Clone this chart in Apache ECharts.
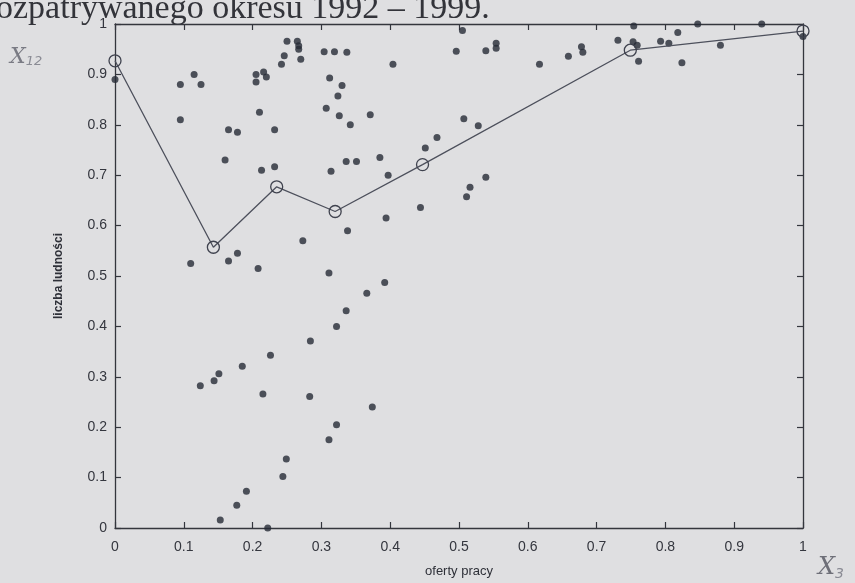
<!DOCTYPE html>
<html>
<head>
<meta charset="utf-8">
<script src="https://cdn.jsdelivr.net/npm/echarts@6/dist/echarts.min.js"></script>
<style>
html,body{margin:0;padding:0;background:#dfdfe1;}
#c{width:855px;height:583px;}
</style>
</head>
<body>
<div id="c"></div>
<script>
// tick labels
var xTickLabels = ['0','0.1','0.2','0.3','0.4','0.5','0.6','0.7','0.8','0.9','1'];
var yTickLabels = ['0','0.1','0.2','0.3','0.4','0.5','0.6','0.7','0.8','0.9','1'];

// scatter points (oferty pracy, liczba ludności)
var dotX = [0,0.095,0.095,0.115,0.125,0.11,0.16,0.165,0.178,0.165,0.178,0.205,0.205,0.216,0.22,0.21,0.213,0.208,0.232,0.232,
  0.242,0.246,0.25,0.265,0.267,0.267,0.27,0.273,0.312,0.304,0.319,0.337,0.33,0.324,0.307,0.326,0.342,0.314,0.336,0.351,
  0.338,0.311,0.371,0.385,0.397,0.394,0.392,0.366,0.404,0.451,0.444,0.124,0.144,0.151,0.185,0.226,0.215,0.284,0.322,0.336,
  0.283,0.322,0.311,0.374,0.249,0.244,0.191,0.177,0.153,0.222,0.505,0.496,0.539,0.554,0.554,0.617,0.659,0.678,0.68,0.731,
  0.754,0.753,0.759,0.761,0.793,0.805,0.818,0.824,0.847,0.88,0.94,1.0,0.468,0.507,0.528,0.539,0.516,0.511];
var dotY = [0.89,0.88,0.81,0.90,0.88,0.525,0.73,0.79,0.785,0.53,0.545,0.90,0.885,0.905,0.895,0.825,0.71,0.515,0.79,0.717,
  0.92,0.937,0.966,0.966,0.957,0.95,0.93,0.57,0.893,0.945,0.945,0.944,0.878,0.857,0.833,0.818,0.80,0.708,0.727,0.727,
  0.59,0.506,0.82,0.735,0.70,0.615,0.487,0.466,0.92,0.754,0.636,0.282,0.292,0.306,0.321,0.343,0.266,0.371,0.40,0.431,
  0.261,0.205,0.175,0.24,0.137,0.102,0.073,0.045,0.016,0.0,0.987,0.946,0.947,0.962,0.952,0.92,0.936,0.955,0.944,0.968,
  0.996,0.965,0.958,0.926,0.966,0.962,0.983,0.923,1.0,0.958,1.0,0.975,0.775,0.812,0.798,0.696,0.676,0.657];

// line with markers
var lineX = [0,0.143,0.235,0.32,0.447,0.749,1.0];
var lineY = [0.927,0.557,0.677,0.628,0.721,0.948,0.986];

var dots = dotX.map(function(x,i){return [x,dotY[i]];});
var linePts = lineX.map(function(x,i){return [x,lineY[i]];});

var axisCol = '#34363d';
var chart = echarts.init(document.getElementById('c'));
function lab(arr){return function(v){var i=Math.round(v*10);return arr[i]!==undefined?arr[i]:'';};}
var lineSt = {show:true,onZero:false,lineStyle:{color:axisCol,width:1.3}};
var tickSt = {show:true,inside:true,length:6,lineStyle:{color:axisCol,width:1.2}};
chart.setOption({
  backgroundColor:'#dfdfe1',
  animation:false,
  grid:{left:115,right:52,top:24,bottom:55},
  xAxis:[{
    type:'value',min:0,max:1,interval:0.1,position:'bottom',
    axisLine:lineSt,axisTick:tickSt,splitLine:{show:false},
    axisLabel:{formatter:lab(xTickLabels),color:'#34363e',fontFamily:'Liberation Sans',fontSize:14,margin:12},
    name:'oferty pracy',nameLocation:'middle',nameGap:37,
    nameTextStyle:{color:'#2e3038',fontFamily:'Liberation Sans',fontSize:13}
  },{
    type:'value',min:0,max:1,interval:0.1,position:'top',
    axisLine:lineSt,axisTick:tickSt,splitLine:{show:false},axisLabel:{show:false}
  }],
  yAxis:[{
    type:'value',min:0,max:1,interval:0.1,position:'left',
    axisLine:lineSt,axisTick:tickSt,splitLine:{show:false},
    axisLabel:{formatter:lab(yTickLabels),color:'#34363e',fontFamily:'Liberation Sans',fontSize:14,margin:8},
    name:'liczba ludności',nameLocation:'middle',nameGap:50,
    nameTextStyle:{color:'#2e3038',fontFamily:'Liberation Sans',fontSize:12,fontWeight:'bold'}
  },{
    type:'value',min:0,max:1,interval:0.1,position:'right',
    axisLine:lineSt,axisTick:tickSt,splitLine:{show:false},axisLabel:{show:false}
  }],
  series:[{
    type:'scatter',xAxisIndex:0,yAxisIndex:0,data:dots,symbol:'circle',symbolSize:7,clip:false,
    itemStyle:{color:'#262a36'},z:3
  },{
    type:'line',xAxisIndex:0,yAxisIndex:0,data:linePts,symbol:'circle',symbolSize:12,
    lineStyle:{color:'#4d505c',width:1.3},
    itemStyle:{color:'rgba(0,0,0,0)',borderColor:'#3f424e',borderWidth:1.3},z:4
  }],
  graphic:[{
    type:'text',left:-4,top:-8,
    style:{text:'ozpatrywanego okresu 1992 – 1999.',font:'34px "Liberation Serif"',fill:'#33343a'}
  },{
    type:'text',left:10,top:46,
    style:{text:'{a|X}{b|12}',rich:{a:{font:'italic 22px "DejaVu Serif"',fill:'#7a7b84'},b:{font:'italic 13px "DejaVu Sans"',fill:'#8a8b94',padding:[10,0,0,0]}}}
  },{
    type:'text',left:818,top:556,
    style:{text:'{a|X}{b|3}',rich:{a:{font:'italic 24px "DejaVu Serif"',fill:'#6e6f78'},b:{font:'italic 14px "DejaVu Sans"',fill:'#8a8b94',padding:[12,0,0,0]}}}
  }]
});
</script>
</body>
</html>
